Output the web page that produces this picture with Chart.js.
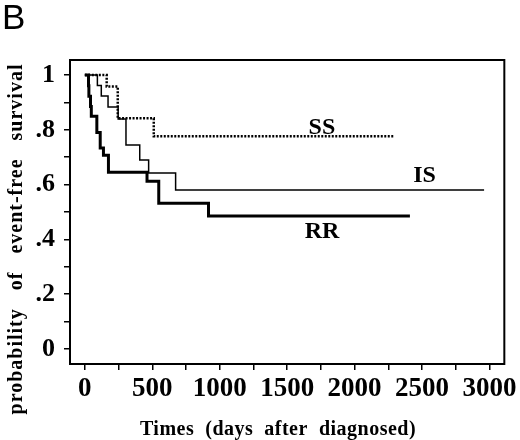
<!DOCTYPE html>
<html>

<head>
    <title>Event-free survival</title>
    <script src="https://cdn.jsdelivr.net/npm/chart.js"></script>
    <style>
        body { margin: 0; background: #fff; }
    </style>
</head>

<body>
    <canvas id="chart" width="520" height="440"></canvas>
    <script>
        // Kaplan-Meier steps (days, probability)
        var rrDays = [0, 27, 30, 42, 48, 89, 114, 138, 175, 461, 548, 917, 2410];
        var rrSurv = [1, 0.961, 0.923, 0.885, 0.850, 0.790, 0.734, 0.707, 0.645, 0.612, 0.532, 0.485, 0.485];

        var isDays = [0, 93, 122, 172, 247, 305, 407, 473, 673, 2960];
        var isSurv = [1, 0.962, 0.924, 0.883, 0.840, 0.745, 0.690, 0.642, 0.580, 0.580];

        var ssDays = [0, 162, 244, 511, 2290];
        var ssSurv = [1, 0.958, 0.842, 0.777, 0.777];

        // tick marks (labels only on every other one)
        var xTicks = [0, 250, 500, 750, 1000, 1250, 1500, 1750, 2000, 2250, 2500, 2750, 3000];
        var xTickLabels = ['0', '', '500', '', '1000', '', '1500', '', '2000', '', '2500', '', '3000'];
        var yTicks = [0, 0.1, 0.2, 0.3, 0.4, 0.5, 0.6, 0.7, 0.8, 0.9, 1];
        var yTickLabels = ['0', '', '.2', '', '.4', '', '.6', '', '.8', '', '1'];

        // curve labels
        var labelNames = ['SS', 'IS', 'RR'];
        var labelDays = [1758, 2518, 1758];
        var labelSurv = [0.807, 0.631, 0.427];

        var yTitle = 'probability   of   event-free   survival';
        var xTitle = 'Times  (days  after  diagnosed)';

        function points(days, surv) {
            var out = [];
            for (var i = 0; i < days.length; i++) {
                out.push({ x: days[i], y: surv[i] });
            }
            return out;
        }

        function fixedTicks(values) {
            return function (scale) {
                scale.ticks = values.map(function (v) { return { value: v }; });
            };
        }

        var serif = "'Liberation Serif', 'Times New Roman', serif";

        var extras = {
            id: 'extras',
            afterDraw: function (chart) {
                var ctx = chart.ctx;
                var a = chart.chartArea;
                var xs = chart.scales.x, ys = chart.scales.y;
                ctx.save();
                // frame
                ctx.strokeStyle = '#000';
                ctx.lineWidth = 2;
                ctx.strokeRect(a.left, a.top, a.right - a.left, a.bottom - a.top);

                ctx.fillStyle = '#000';
                // curve labels
                ctx.font = 'bold 24px ' + serif;
                ctx.textAlign = 'center';
                ctx.textBaseline = 'middle';
                for (var i = 0; i < labelNames.length; i++) {
                    ctx.fillText(labelNames[i], xs.getPixelForValue(labelDays[i]), ys.getPixelForValue(labelSurv[i]));
                }

                // panel letter
                ctx.font = "35px 'Liberation Sans', Arial, sans-serif";
                ctx.textAlign = 'left';
                ctx.textBaseline = 'alphabetic';
                ctx.fillText('B', 2, 29);

                // axis titles
                ctx.font = 'bold 20px ' + serif;
                ctx.letterSpacing = '0.5px';
                ctx.textAlign = 'center';
                ctx.fillText(xTitle, 278, 435);

                ctx.letterSpacing = '1px';
                ctx.translate(22, 239);
                ctx.rotate(-Math.PI / 2);
                ctx.fillText(yTitle, 0, 0);
                ctx.restore();
            }
        };

        var ctx = document.getElementById('chart').getContext('2d');
        var chart = new Chart(ctx, {
            type: 'scatter',
            data: {
                datasets: [{
                    label: 'SS',
                    data: points(ssDays, ssSurv),
                    borderColor: '#000',
                    borderWidth: 2.5,
                    borderDash: [2, 1.5],
                    showLine: true,
                    stepped: true,
                    pointRadius: 0
                }, {
                    label: 'IS',
                    data: points(isDays, isSurv),
                    borderColor: '#000',
                    borderWidth: 1.5,
                    showLine: true,
                    stepped: true,
                    pointRadius: 0
                }, {
                    label: 'RR',
                    data: points(rrDays, rrSurv),
                    borderColor: '#000',
                    borderWidth: 3,
                    showLine: true,
                    stepped: true,
                    pointRadius: 0
                }]
            },
            options: {
                responsive: false,
                animation: false,
                layout: { padding: { top: 60, right: 15, left: 0, bottom: 0 } },
                plugins: {
                    legend: { display: false },
                    tooltip: { enabled: false }
                },
                scales: {
                    x: {
                        type: 'linear',
                        min: -110,
                        max: 3110,
                        afterBuildTicks: fixedTicks(xTicks),
                        afterFit: function (s) { s.height = 76; },
                        border: { display: false },
                        grid: {
                            drawOnChartArea: false,
                            drawTicks: true,
                            tickLength: 6,
                            color: '#000',
                            lineWidth: 1.5
                        },
                        ticks: {
                            maxRotation: 0,
                            autoSkip: false,
                            padding: 3,
                            color: '#000',
                            font: { family: serif, size: 27, weight: 'bold' },
                            callback: function (v, i) { return xTickLabels[i]; }
                        }
                    },
                    y: {
                        min: -0.055,
                        max: 1.055,
                        afterBuildTicks: fixedTicks(yTicks),
                        afterFit: function (s) { s.width = 70; },
                        border: { display: false },
                        grid: {
                            drawOnChartArea: false,
                            drawTicks: true,
                            tickLength: 6,
                            color: '#000',
                            lineWidth: 1.5
                        },
                        ticks: {
                            autoSkip: false,
                            padding: 9,
                            color: '#000',
                            font: { family: serif, size: 26, weight: 'bold' },
                            callback: function (v, i) { return yTickLabels[i]; }
                        }
                    }
                }
            },
            plugins: [extras]
        });
    </script>
</body>

</html>
